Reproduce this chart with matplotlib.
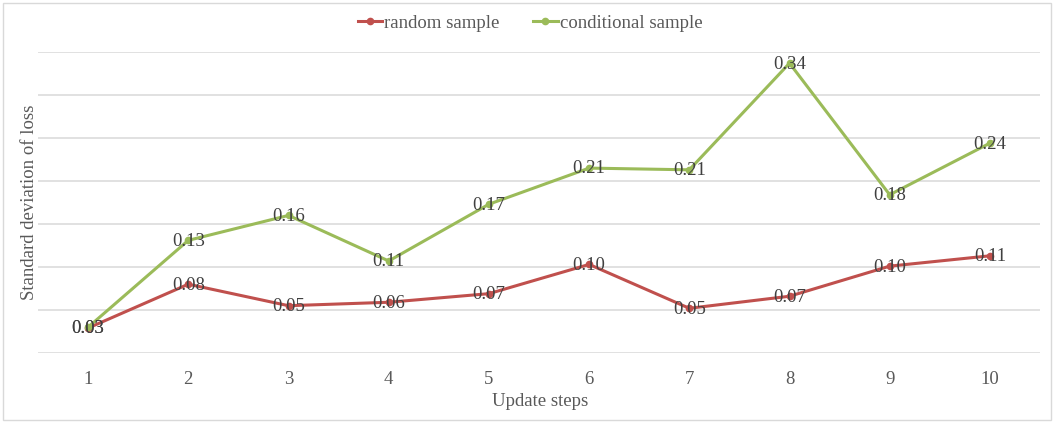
import matplotlib
matplotlib.use("Agg")
import matplotlib.pyplot as plt
from matplotlib.patches import Rectangle

steps = [1, 2, 3, 4, 5, 6, 7, 8, 9, 10]
random_sample = [0.029, 0.080, 0.055, 0.059, 0.069, 0.103, 0.052, 0.066, 0.101, 0.113]
conditional_sample = [0.030, 0.131, 0.160, 0.107, 0.173, 0.215, 0.213, 0.337, 0.184, 0.244]
labels_random = ["0.03", "0.08", "0.05", "0.06", "0.07", "0.10", "0.05", "0.07", "0.10", "0.11"]
labels_cond = ["0.03", "0.13", "0.16", "0.11", "0.17", "0.21", "0.21", "0.34", "0.18", "0.24"]

plt.rcParams['font.family'] = ['Liberation Serif', 'DejaVu Serif']
gray = '#595959'
red = '#C0504D'
green = '#9BBB59'

fig = plt.figure(figsize=(10.54, 4.23), dpi=100)
ax = fig.add_axes([38/1054, 1 - 353/423, (1040-38)/1054, (353-52)/423])

ax.plot(steps, random_sample, color=red, lw=2.2, marker='o', ms=4.5, label='random sample', zorder=3)
ax.plot(steps, conditional_sample, color=green, lw=2.2, marker='o', ms=4.5, label='conditional sample', zorder=3)

for x, y, t in zip(steps, conditional_sample, labels_cond):
    ax.text(x, y - 0.001, t, ha='center', va='center', fontsize=13.5, color='#404040', zorder=4)
for x, y, t in zip(steps, random_sample, labels_random):
    ax.text(x, y - 0.001, t, ha='center', va='center', fontsize=13.5, color='#404040', zorder=4)

ax.set_xlim(0.5, 10.5)
ax.set_ylim(0, 0.35)
ax.set_yticks([0, 0.05, 0.1, 0.15, 0.2, 0.25, 0.3, 0.35])
ax.set_yticklabels([])
ax.set_xticks(steps)
ax.set_xticklabels([str(s) for s in steps], fontsize=13.5, color=gray)
ax.tick_params(axis='both', length=0)
ax.tick_params(axis='x', pad=13)
ax.grid(axis='y', color='#d9d9d9', lw=1.1)
ax.set_axisbelow(True)
for s in ax.spines.values():
    s.set_visible(False)

fig.text(540/1054, 1 - 401/423, 'Update steps', ha='center', va='center', fontsize=13.5, color=gray)
fig.text(30/1054, 1 - 202/423, 'Standard deviation of loss', ha='center', va='center',
         rotation=90, fontsize=13.5, color=gray)

leg = fig.legend(loc='center', bbox_to_anchor=(530/1054, 1 - 23/423), ncol=2, frameon=False,
                 fontsize=13.5, handlelength=1.3, handletextpad=0.1, columnspacing=1.8)
for t in leg.get_texts():
    t.set_color(gray)

fig.patches.append(Rectangle((3/1054, 3/423), 1 - 6/1054, 1 - 6/423, transform=fig.transFigure,
                             fill=False, edgecolor='#d9d9d9', lw=1))

fig.savefig('out.png', dpi=100)
